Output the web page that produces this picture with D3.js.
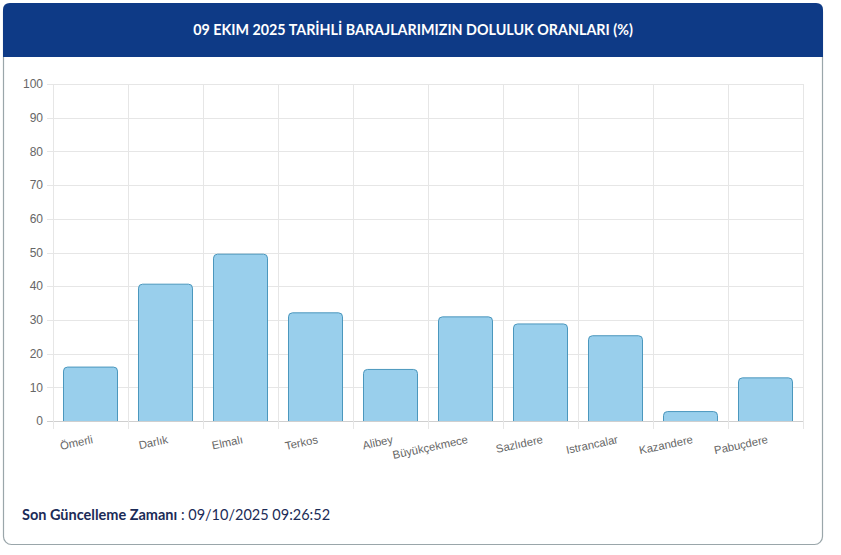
<!DOCTYPE html>
<html>
<head>
<meta charset="utf-8">
<script src="https://cdn.jsdelivr.net/npm/d3@7"></script>
<style>
  html, body { margin: 0; padding: 0; background: #ffffff; }
  svg { display: block; }
</style>
</head>
<body>
<svg id="chart" width="841" height="555"></svg>
<script>
const titleText = "09 EKIM 2025 TARİHLİ BARAJLARIMIZIN DOLULUK ORANLARI (%)";
const categories = ["Ömerli", "Darlık", "Elmalı", "Terkos", "Alibey", "Büyükçekmece", "Sazlıdere", "Istrancalar", "Kazandere", "Pabuçdere"];
const values = [16.0, 40.6, 49.5, 32.1, 15.3, 30.9, 28.8, 25.3, 2.8, 12.8];
const yTicks = [0, 10, 20, 30, 40, 50, 60, 70, 80, 90, 100];
const footerLabel = "Son Güncelleme Zamanı";
const footerValue = " : 09/10/2025 09:26:52";

(function () {
const svg = d3.select("#chart");

// card
svg.append("rect")
  .attr("x", 3.5).attr("y", 3.5).attr("width", 819).attr("height", 541)
  .attr("rx", 8).attr("ry", 8)
  .attr("fill", "#ffffff").attr("stroke", "#9aa6aa").attr("stroke-width", 1.2);

// header with rounded top corners
const hx = 3, hy = 3, hw = 820, hh = 54, r = 7;
svg.append("path")
  .attr("d", `M${hx},${hy + hh} L${hx},${hy + r} Q${hx},${hy} ${hx + r},${hy} L${hx + hw - r},${hy} Q${hx + hw},${hy} ${hx + hw},${hy + r} L${hx + hw},${hy + hh} Z`)
  .attr("fill", "#0e3a86");

svg.append("text")
  .attr("x", 413).attr("y", 35)
  .attr("text-anchor", "middle")
  .attr("font-family", "Lato, 'Noto Sans', sans-serif")
  .attr("font-weight", "bold")
  .attr("font-size", 14.3)
  .attr("fill", "#ffffff")
  .text(titleText);

// plot
const pLeft = 53, pRight = 803, pTop = 84, pBottom = 421;
const x = d3.scaleBand().domain(categories).range([pLeft, pRight]).paddingInner(0).paddingOuter(0);
const y = d3.scaleLinear().domain([0, 100]).range([pBottom, pTop]);

const g = svg.append("g");

// horizontal gridlines (with ticks to the left)
g.selectAll("line.hgrid").data(yTicks).join("line")
  .attr("class", "hgrid")
  .attr("x1", pLeft - 6).attr("x2", pRight)
  .attr("y1", d => Math.round(y(d)) + 0.5).attr("y2", d => Math.round(y(d)) + 0.5)
  .attr("stroke", d => d === 0 ? "#cfcfcf" : "#e6e6e6").attr("stroke-width", 1);

// vertical gridlines (with ticks below)
const vLines = categories.map(c => x(c)).concat([pRight]);
g.selectAll("line.vgrid").data(vLines).join("line")
  .attr("class", "vgrid")
  .attr("x1", d => Math.round(d) + 0.5).attr("x2", d => Math.round(d) + 0.5)
  .attr("y1", pTop).attr("y2", pBottom + 8)
  .attr("stroke", "#e6e6e6").attr("stroke-width", 1);

// y labels
g.selectAll("text.ylab").data(yTicks).join("text")
  .attr("class", "ylab")
  .attr("x", 43).attr("y", d => y(d))
  .attr("dy", "0.35em")
  .attr("text-anchor", "end")
  .attr("font-family", "'Liberation Sans', Arial, sans-serif")
  .attr("font-size", 12)
  .attr("fill", "#666666")
  .text(d => d);

// bars with rounded top corners
const barW = x.bandwidth() * 0.72;
const br = 4;
g.selectAll("path.bar").data(values).join("path")
  .attr("class", "bar")
  .attr("d", (v, i) => {
    const cx = x(categories[i]) + x.bandwidth() / 2;
    const x0 = cx - barW / 2, x1 = cx + barW / 2;
    const yt = y(v), yb = y(0);
    const rr = Math.min(br, (yb - yt));
    return `M${x0},${yb} L${x0},${yt + rr} Q${x0},${yt} ${x0 + rr},${yt} L${x1 - rr},${yt} Q${x1},${yt} ${x1},${yt + rr} L${x1},${yb}`;
  })
  .attr("fill", "#99cfec")
  .attr("stroke", "#4b97bd")
  .attr("stroke-width", 1);

// x labels (rotated)
g.selectAll("text.xlab").data(categories).join("text")
  .attr("class", "xlab")
  .attr("transform", c => `translate(${x(c) + x.bandwidth() / 2 + 3},${pBottom + 22}) rotate(-12)`)
  .attr("text-anchor", "end")
  .attr("font-family", "'Liberation Sans', Arial, sans-serif")
  .attr("font-size", 11.3)
  .attr("fill", "#666666")
  .text(c => c);

// footer
const ft = svg.append("text")
  .attr("x", 22).attr("y", 520)
  .attr("font-family", "Lato, 'Noto Sans', sans-serif")
  .attr("font-size", 14.5)
  .attr("fill", "#1b2b57");
ft.append("tspan").attr("font-weight", "bold").text(footerLabel);
ft.append("tspan").text(footerValue);
})();
</script>
</body>
</html>
